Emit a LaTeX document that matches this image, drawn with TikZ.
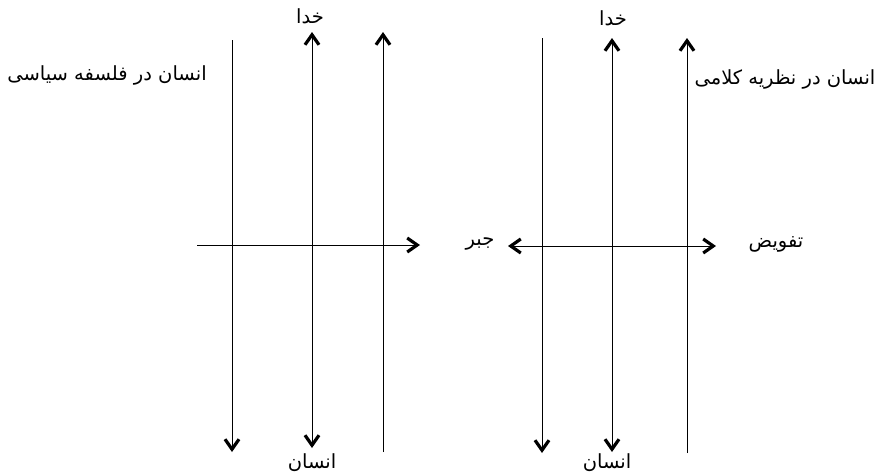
\documentclass[tikz,border=0pt]{standalone}
\usepackage{fontspec}
\newfontfamily\arabicfont[Script=Arabic]{DejaVu Sans}
\TeXXeTstate=1
\usetikzlibrary{arrows.meta}
\colorlet{colLinea}{black}
\tikzset{
  linea/.style={draw=colLinea, line width=1pt},
  flecha/.style={linea, -{Straight Barb[length=10pt, width=14pt, line width=3.2pt]}},
  flechaDoble/.style={linea, {Straight Barb[length=10pt, width=14pt, line width=3.2pt]}-{Straight Barb[length=10pt, width=14pt, line width=3.2pt]}},
  etiqueta/.style={font=\arabicfont\fontsize{19.5}{22}\selectfont, text=colLinea, inner sep=1pt},
}
\begin{document}
\begin{tikzpicture}[x=1pt, y=-1pt]
  \useasboundingbox (0,0) rectangle (884,472);
  % diagrama izquierdo
  \coordinate (i1a) at (232,40);  \coordinate (i1b) at (232,452);
  \coordinate (i2a) at (312,32);  \coordinate (i2b) at (312,448);
  \coordinate (i3a) at (383,32);  \coordinate (i3b) at (383,452);
  \coordinate (iHa) at (197,245); \coordinate (iHb) at (420,245);
  \draw[flecha] (i1a) -- (i1b);
  \draw[flechaDoble] (i2b) -- (i2a);
  \draw[flecha] (i3b) -- (i3a);
  \draw[flecha] (iHa) -- (iHb);
  \node[etiqueta] (khodaIzq) at (310,16) {\beginR خدا\endR};
  \node[etiqueta] (ensanIzq) at (312,463) {\beginR انسان\endR};
  \node[etiqueta] (tituloIzq) at (107,75) {\beginR انسان در فلسفه سیاسی\endR};
  % diagrama derecho
  \coordinate (d1a) at (542,38);  \coordinate (d1b) at (542,453);
  \coordinate (d2a) at (612,38);  \coordinate (d2b) at (612,452);
  \coordinate (d3a) at (687,38);  \coordinate (d3b) at (687,453);
  \coordinate (dHa) at (508,246); \coordinate (dHb) at (716,246);
  \draw[flecha] (d1a) -- (d1b);
  \draw[flechaDoble] (d2b) -- (d2a);
  \draw[flecha] (d3b) -- (d3a);
  \draw[flechaDoble] (dHa) -- (dHb);
  \node[etiqueta] (khodaDer) at (613,18) {\beginR خدا\endR};
  \node[etiqueta] (ensanDer) at (607,463) {\beginR انسان\endR};
  \node[etiqueta] (tituloDer) at (785,79) {\beginR انسان در نظریه کلامی\endR};
  \node[etiqueta] (jabr) at (480,244) {\beginR جبر\endR};
  \node[etiqueta] (tafviz) at (776,244) {\beginR تفویض\endR};
\end{tikzpicture}
\end{document}
